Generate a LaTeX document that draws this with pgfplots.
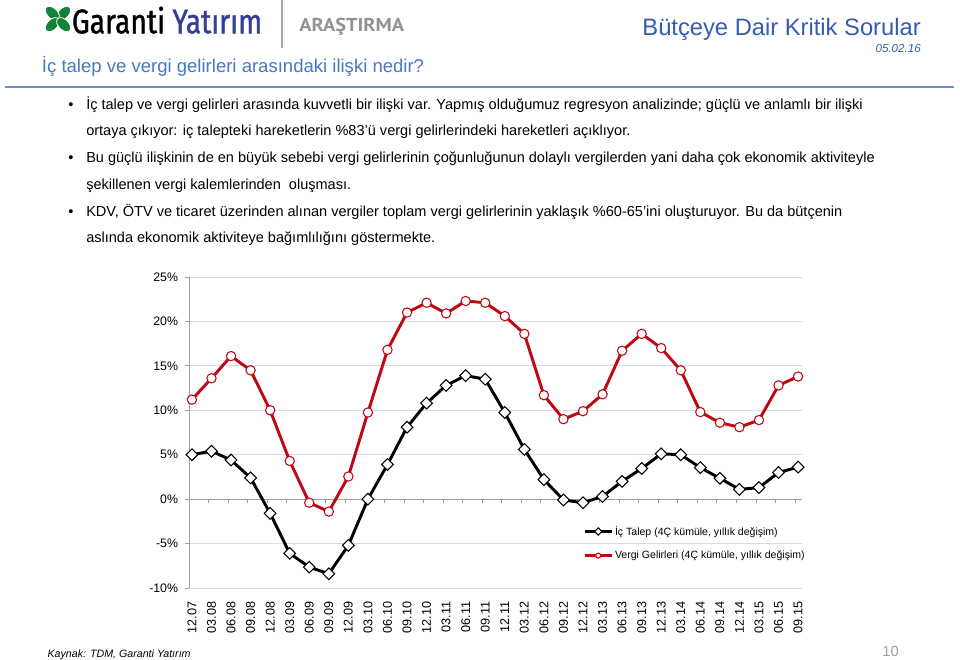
\documentclass[border=0pt]{standalone}
\usepackage{pgfplots}
\pgfplotsset{compat=1.18}
\usepackage{fontspec}
\setmainfont{Liberation Sans}
\newfontfamily\logofont[FakeBold=1.2]{Fira Sans}
\newfontfamily\araflont{PT Sans}
\definecolor{vred}{RGB}{192,8,20}
\definecolor{titleblue}{RGB}{52,92,178}
\definecolor{subblue}{RGB}{70,120,195}
\definecolor{ruleblue}{RGB}{110,140,200}
\definecolor{logoblue}{RGB}{52,64,150}
\definecolor{clover}{RGB}{20,130,55}
\begin{document}
\begin{tikzpicture}
\fill[white] (0,0) rectangle (720pt,-495pt);
\begin{scope}[x=0.75pt,y=-0.75pt]
% logo
\foreach \a in {45,135,225,315}{
  \fill[clover, draw=white, line width=0.6pt, rotate around={\a:(58,19)}] (66,19) ellipse [x radius=8.5, y radius=5.2];
}
\node[anchor=base west, inner sep=0pt] at (71.7,33.3) {\resizebox{142.7pt}{20pt}{\logofont Garanti \textcolor{logoblue}{Yatırım}}};
\draw[gray!70, line width=0.8pt] (282,0) -- (282,48);
\node[anchor=base west, inner sep=0pt, text=gray!85] at (299,31.7) {\resizebox{78.75pt}{10pt}{\araflont\bfseries ARAŞTIRMA}};
% titles
\node[anchor=base east, inner sep=0pt, text=titleblue, font=\fontsize{17.8pt}{20pt}\selectfont] at (921,36) {Bütçeye Dair Kritik Sorular};
\node[anchor=base east, inner sep=0pt, text=titleblue, font=\fontsize{8.7pt}{10pt}\selectfont\itshape] at (921,52.3) {05.02.16};
\node[anchor=base west, inner sep=0pt, text=subblue, font=\fontsize{13.9pt}{16pt}\selectfont] at (41.7,72.3) {İç talep ve vergi gelirleri arasındaki ilişki nedir?};
\draw[ruleblue, line width=1.1pt] (5,87) -- (954,87);
% bullets
\begin{scope}[every node/.style={anchor=base west, inner sep=0pt, font=\fontsize{10.9pt}{13pt}\selectfont}]
\node at (68,109) {•};
\node at (86,109) {İç talep ve vergi gelirleri arasında kuvvetli bir ilişki var. Yapmış olduğumuz regresyon analizinde; güçlü ve anlamlı bir ilişki};
\node at (86,135.7) {ortaya çıkıyor: iç talepteki hareketlerin \%83’ü vergi gelirlerindeki hareketleri açıklıyor.};
\node at (68,162.7) {•};
\node at (86,162.7) {Bu güçlü ilişkinin de en büyük sebebi vergi gelirlerinin çoğunluğunun dolaylı vergilerden yani daha çok ekonomik aktiviteyle};
\node at (86,189) {şekillenen vergi kalemlerinden\ \ oluşması.};
\node at (68,216) {•};
\node at (86,216) {KDV, ÖTV ve ticaret üzerinden alınan vergiler toplam vergi gelirlerinin yaklaşık \%60-65’ini oluşturuyor. Bu da bütçenin};
\node at (86,242.7) {aslında ekonomik aktiviteye bağımlılığını göstermekte.};
\end{scope}
% footer
\node[anchor=base west, inner sep=0pt, font=\fontsize{8pt}{10pt}\selectfont\itshape] at (47.3,657) {Kaynak: TDM, Garanti Yatırım};
\node[anchor=base east, inner sep=0pt, text=gray!75, font=\fontsize{11pt}{13pt}\selectfont] at (899,656.5) {10};
\end{scope}

\begin{axis}[
  at={(141.75pt,-441pt)}, anchor=south west,
  scale only axis, width=459.75pt, height=233.25pt,
  xmin=-0.15, xmax=31.2, ymin=-10, ymax=25,
  xtick={0,...,31},
  xticklabels={12.07,03.08,06.08,09.08,12.08,03.09,06.09,09.09,12.09,03.10,06.10,09.10,12.10,03.11,06.11,09.11,12.11,03.12,06.12,09.12,12.12,03.13,06.13,09.13,12.13,03.14,06.14,09.14,12.14,03.15,06.15,09.15},
  x tick label style={rotate=90, anchor=east, inner sep=0pt, font=\fontsize{9.5pt}{11pt}\selectfont},
  xticklabel shift=7pt,
  ytick={-10,-5,0,5,10,15,20,25},
  yticklabels={-10\%,-5\%,0\%,5\%,10\%,15\%,20\%,25\%},
  y tick label style={inner sep=0pt, font=\fontsize{9.25pt}{11pt}\selectfont},
  yticklabel shift=5pt,
  axis y line*=left, axis x line*=bottom,
  x axis line style={draw=none},
  y axis line style={gray!75, line width=0.75pt, -},
  xtick style={draw=none},
  ytick style={gray!75, line width=0.75pt},
  tick align=outside, major tick length=3pt,
  ymajorgrids, grid style={gray!28, line width=0.75pt},
  legend style={at={(0.643,0.207)}, anchor=north west, draw=none, fill=none,
    font=\fontsize{7.9pt}{9pt}\selectfont, row sep=7.3pt, inner sep=0pt,
    nodes={inner sep=1.5pt}},
  legend cell align=left,
  legend image code/.code={\draw[mark repeat=2,mark phase=2,#1,mark size=1.9pt] plot coordinates {(0pt,0pt) (10pt,0pt) (20pt,0pt)};},
]
\draw[gray!75, line width=0.75pt] (axis cs:-0.15,0) -- (axis cs:31.2,0);
\pgfplotsinvokeforeach{1,...,31}{\draw[gray!75, line width=0.75pt] ([xshift=-2.2pt]axis cs:#1,0) -- ([xshift=-2.2pt,yshift=-3pt]axis cs:#1,0);}
\addplot[black, line width=2.2pt, mark=square*, mark size=3.1pt, mark options={rotate=45, fill=white, draw=black, line width=0.8pt}] coordinates {
(0,5.0) (1,5.4) (2,4.4) (3,2.4) (4,-1.6) (5,-6.1) (6,-7.65) (7,-8.4) (8,-5.2) (9,0.0)
(10,3.9) (11,8.1) (12,10.8) (13,12.8) (14,13.9) (15,13.5) (16,9.75) (17,5.6) (18,2.2) (19,-0.1)
(20,-0.4) (21,0.3) (22,2.0) (23,3.45) (24,5.1) (25,5.0) (26,3.55) (27,2.35) (28,1.1) (29,1.3)
(30,3.0) (31,3.6)};
\addlegendentry{İç Talep (4Ç kümüle, yıllık değişim)}
\addplot[vred, line width=2.2pt, mark=*, mark size=3.5pt, mark options={fill=white, draw=vred, line width=0.8pt}] coordinates {
(0,11.2) (1,13.6) (2,16.1) (3,14.5) (4,10.0) (5,4.3) (6,-0.4) (7,-1.4) (8,2.55) (9,9.75)
(10,16.8) (11,21.0) (12,22.1) (13,20.9) (14,22.3) (15,22.1) (16,20.6) (17,18.6) (18,11.7) (19,9.0)
(20,9.9) (21,11.8) (22,16.7) (23,18.6) (24,17.0) (25,14.5) (26,9.8) (27,8.6) (28,8.1) (29,8.9)
(30,12.8) (31,13.8)};
\addlegendentry{Vergi Gelirleri (4Ç kümüle, yıllık değişim)}
\end{axis}
\pgfresetboundingbox
\path[use as bounding box] (0,0) rectangle (720pt,-495pt);
\end{tikzpicture}
\end{document}
